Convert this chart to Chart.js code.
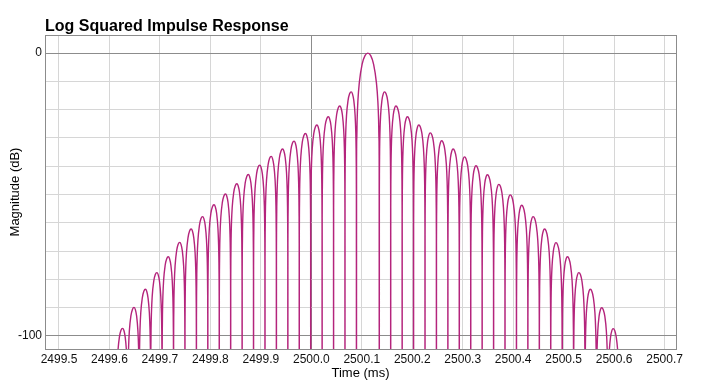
<!DOCTYPE html>
<html><head><meta charset="utf-8">
<script src="https://cdn.jsdelivr.net/npm/chart.js@4"></script>
<style>html,body{margin:0;padding:0;background:#fff}canvas{display:block}</style>
</head><body>
<canvas id="c" width="709" height="388"></canvas>
<script>
// ---- text ----
const chartTitle = "Log Squared Impulse Response";
const xTitle = "Time (ms)";
const yTitle = "Magnitude (dB)";

// ---- axes ----
const xTickValues = [2499.5, 2499.6, 2499.7, 2499.8, 2499.9, 2500.0, 2500.1, 2500.2, 2500.3, 2500.4, 2500.5, 2500.6, 2500.7];
const xRange = [2499.4723, 2500.7226];
const yTickValues = [-100, -90, -80, -70, -60, -50, -40, -30, -20, -10, 0];
const yLabeledTicks = [0, -100];
const yRange = [-104.6, 6.4];
const xDarkLine = 2500.0;

// ---- lobe zeros (ms), ascending ----
const zeroMs = [
  2499.6137, 2499.6364, 2499.6590, 2499.6817, 2499.7043, 2499.7270, 2499.7496, 2499.7723,
  2499.7949, 2499.8176, 2499.8402, 2499.8629, 2499.8855, 2499.9082, 2499.9308, 2499.9535,
  2499.9761, 2499.9988, 2500.0214, 2500.0441, 2500.0667, 2500.0894,
  2500.1347, 2500.1573, 2500.1800, 2500.2026, 2500.2253, 2500.2479, 2500.2706, 2500.2932,
  2500.3159, 2500.3385, 2500.3612, 2500.3838, 2500.4065, 2500.4291, 2500.4518, 2500.4744,
  2500.4971, 2500.5197, 2500.5424, 2500.5650, 2500.5877, 2500.6103
];

// ---- lobe peaks (ms) and levels (dB), ascending in time ----
const lobePeakMs = [
  2499.6259, 2499.6486, 2499.6712, 2499.6939, 2499.7165, 2499.7392, 2499.7618, 2499.7845,
  2499.8071, 2499.8298, 2499.8524, 2499.8751, 2499.8977, 2499.9204, 2499.9430, 2499.9657,
  2499.9883, 2500.0110, 2500.0336, 2500.0563, 2500.0789,
  2500.1120,
  2500.1451, 2500.1677, 2500.1904, 2500.2130, 2500.2357, 2500.2583, 2500.2810, 2500.3036,
  2500.3263, 2500.3489, 2500.3716, 2500.3942, 2500.4169, 2500.4395, 2500.4622, 2500.4848,
  2500.5075, 2500.5301, 2500.5528, 2500.5754, 2500.5981
];
const lobePeakDb = [
  -97.3, -89.9, -83.5, -77.6, -72.0, -66.9, -62.2, -57.8, -53.6, -49.8, -46.2,
  -42.9, -39.6, -36.5, -33.9, -31.1, -28.4, -25.4, -22.5, -18.7, -13.7,
  0,
  -13.7, -18.7, -22.5, -25.4, -28.2, -31.0, -33.9, -36.7, -39.8, -43.0, -46.4,
  -50.1, -53.8, -57.8, -62.2, -67.0, -72.0, -77.6, -83.5, -90.0, -97.4
];
const mainLobeIndex = 21;

// ---- lobe outline: [fraction from zero to peak, dB below peak] ----
const sideProfile = [[0, -200], [0.01, -36], [0.03, -26.6], [0.06, -20.5], [0.125, -14.2], [0.25, -8.3], [0.5, -3.0], [0.75, -0.7], [1, 0]];
const mainProfile = [[0, -200], [0.01, -39.5], [0.03, -30], [0.06, -23.8], [0.125, -17.1], [0.25, -10.5], [0.5, -3.9], [0.75, -0.9], [1, 0]];

// ---- build line points ----
const points = [];
for (let i = 0; i < lobePeakMs.length; i++) {
  const a = zeroMs[i], b = zeroMs[i + 1], p = lobePeakMs[i], L = lobePeakDb[i];
  const prof = i === mainLobeIndex ? mainProfile : sideProfile;
  for (let j = (i === 0 ? 0 : 1); j < prof.length; j++) {
    points.push({x: a + prof[j][0] * (p - a), y: L + prof[j][1]});
  }
  for (let j = prof.length - 2; j >= 0; j--) {
    points.push({x: b - prof[j][0] * (b - p), y: L + prof[j][1]});
  }
}

const FONT = "'Liberation Sans', Arial, Helvetica, sans-serif";
const LIGHT = 'rgb(214,214,214)';
const DARK = 'rgb(140,140,140)';
const near = (a, b) => Math.abs(a - b) < 1e-6;

new Chart(document.getElementById('c'), {
  type: 'line',
  data: {
    datasets: [{
      data: points,
      borderColor: 'rgb(180,36,124)',
      borderWidth: 1.4,
      pointRadius: 0,
      fill: false,
      cubicInterpolationMode: 'monotone'
    }]
  },
  options: {
    responsive: false,
    animation: false,
    devicePixelRatio: 1,
    layout: {padding: {left: 0, right: 33, top: 0, bottom: 0}},
    plugins: {
      legend: {display: false},
      tooltip: {enabled: false},
      title: {
        display: true, text: chartTitle, align: 'start', fullSize: false,
        color: '#000', font: {family: FONT, size: 16, weight: 'bold', lineHeight: 1},
        padding: {top: 19, bottom: 0}
      }
    },
    scales: {
      x: {
        type: 'linear', min: xRange[0], max: xRange[1],
        afterBuildTicks: s => { s.ticks = [xRange[0], ...xTickValues, xRange[1]].map(v => ({value: v})); },
        afterFit: s => { s.height = 39; },
        ticks: {
          autoSkip: false, maxRotation: 0, padding: 3, color: '#111',
          font: {family: FONT, size: 12},
          callback: v => xTickValues.some(t => near(t, v)) ? Number(v).toFixed(1) : ''
        },
        grid: {
          drawTicks: false, lineWidth: 1,
          color: c => (near(c.tick.value, xDarkLine) || near(c.tick.value, xRange[0]) || near(c.tick.value, xRange[1])) ? DARK : LIGHT
        },
        border: {display: true, color: DARK},
        title: {display: true, text: xTitle, color: '#000', font: {family: FONT, size: 13}, padding: {top: 2, bottom: 7}}
      },
      y: {
        type: 'linear', min: yRange[0], max: yRange[1],
        afterBuildTicks: s => { s.ticks = [yRange[0], ...yTickValues, yRange[1]].map(v => ({value: v})); },
        afterFit: s => { s.width = 45; },
        ticks: {
          autoSkip: false, padding: 3, color: '#111',
          font: {family: FONT, size: 12},
          callback: v => yLabeledTicks.some(t => near(t, v)) ? String(Math.round(v)) : ''
        },
        grid: {
          drawTicks: false, lineWidth: 1,
          color: c => (yLabeledTicks.some(t => near(t, c.tick.value)) || near(c.tick.value, yRange[0]) || near(c.tick.value, yRange[1])) ? DARK : LIGHT
        },
        border: {display: true, color: DARK},
        title: {display: true, text: yTitle, color: '#000', font: {family: FONT, size: 13}, padding: {top: 8, bottom: 0}}
      }
    }
  }
});
</script>
</body></html>
